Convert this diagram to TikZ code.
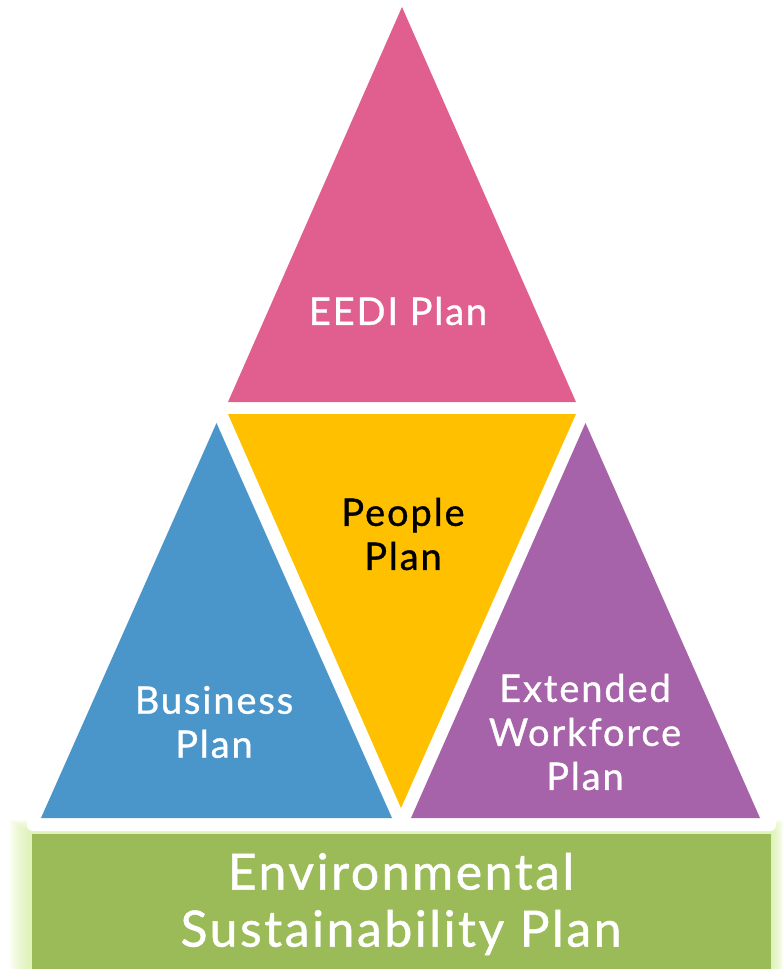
\documentclass[tikz,border=0pt]{standalone}
\usepackage{fontspec}
\setmainfont{Lato}[LetterSpace=5, FakeBold=0.9]
\definecolor{pinkc}{HTML}{E15F8E}
\definecolor{yellowc}{HTML}{FFC000}
\definecolor{bluec}{HTML}{4A95C9}
\definecolor{purplec}{HTML}{A663A9}
\definecolor{greenc}{HTML}{9BBB59}
\definecolor{glowc}{HTML}{D6EFA8}
\tikzset{
  lbl/.style={align=center, text=white, font=\fontsize{38}{44}\selectfont, inner sep=0pt},
  biglbl/.style={align=center, text=white, font=\fontsize{50}{57}\selectfont, inner sep=0pt}
}
\begin{document}
\begin{tikzpicture}[x=1pt,y=-1pt]
\useasboundingbox (0,0) rectangle (784,969);
\clip (0,0) rectangle (784,969);
% glow around green band
\foreach \i in {1,...,12}{
  \fill[glowc, opacity=0.12] (32-\i*1.8, 834-\i*1.2) rectangle (771+\i*1.0, 990);
}
% white band
\fill[white, rounded corners=6pt] (27,817) rectangle (776,831);
% green band
\fill[greenc] (32,834) rectangle (771,990);
% triangles
\fill[pinkc] (402,7) -- (576,402) -- (228,402) -- cycle;
\fill[yellowc] (228,414) -- (576,414) -- (401,808) -- cycle;
\fill[bluec] (216.5,423) -- (392,818) -- (41,818) -- cycle;
\fill[purplec] (585.5,423) -- (760,818) -- (411,818) -- cycle;
% labels
\node[lbl] (eedi) at (398,311) {EEDI Plan};
\node[lbl, text=black] (people) at (403,534) {People\\Plan};
\node[lbl] (business) at (214,722) {Business\\Plan};
\node[lbl] (extended) at (585,732) {Extended\\Workforce\\Plan};
\node[biglbl] (env) at (401,904) {Environmental\\Sustainability Plan};
\end{tikzpicture}
\end{document}
